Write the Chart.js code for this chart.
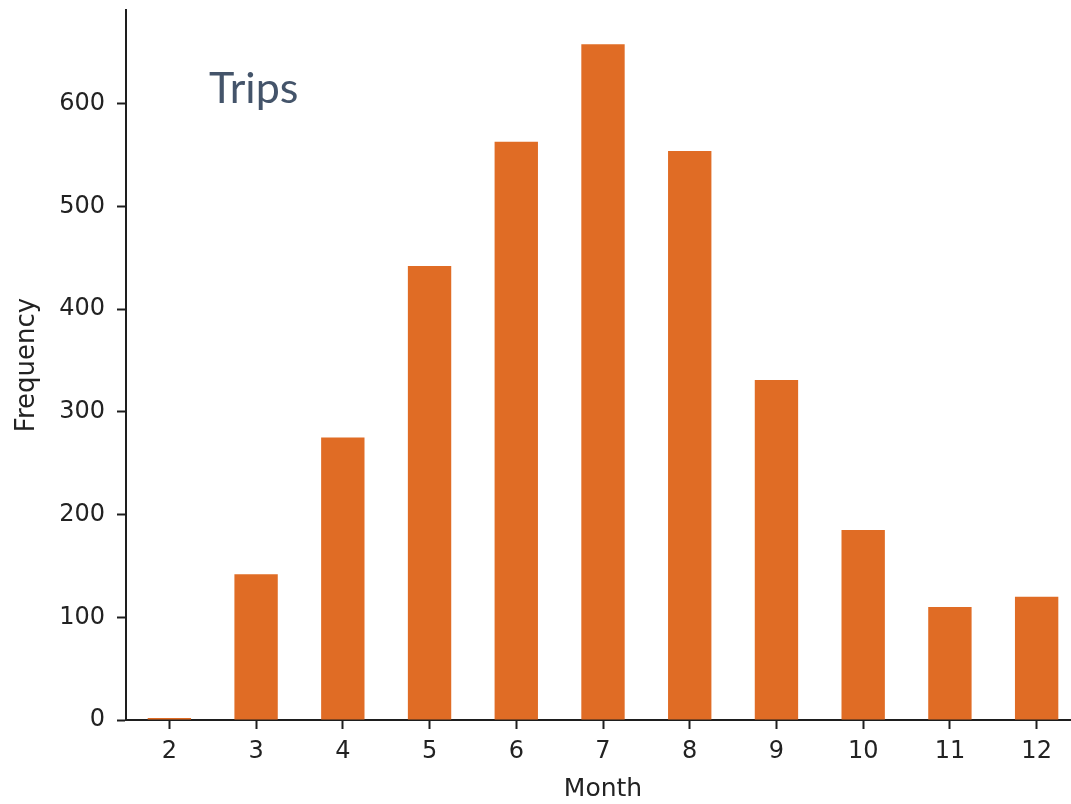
<!DOCTYPE html>
<html>
<head>
<meta charset="utf-8">
<script src="https://cdn.jsdelivr.net/npm/chart.js@4"></script>
<style>
  html, body { margin: 0; padding: 0; background: #fff; overflow: hidden; }
  #wrap { position: relative; width: 1080px; height: 804px; }
  #trips { position: absolute; left: 209px; top: 61px; font-family: Lato, "Open Sans", sans-serif;
           font-size: 43px; line-height: 1.2; color: #44546A; white-space: nowrap; }
</style>
</head>
<body>
<div id="wrap">
  <canvas id="c"></canvas>
  <div id="trips">Trips</div>
</div>
<script>
const months = ['2', '3', '4', '5', '6', '7', '8', '9', '10', '11', '12'];
const frequency = [2, 142, 275, 442, 563, 658, 554, 331, 185, 110, 120];
const yTicks = [0, 100, 200, 300, 400, 500, 600];
const yMax = 691.3;
const xTitle = 'Month';
const yTitle = 'Frequency';

const axisColor = '#1e1e1e';
const textColor = '#222222';

new Chart(document.getElementById('c'), {
  type: 'bar',
  data: {
    labels: months,
    datasets: [{
      data: frequency,
      backgroundColor: '#E06C25',
      borderWidth: 0,
      barPercentage: 0.5,
      categoryPercentage: 1.0
    }]
  },
  options: {
    responsive: true,
    maintainAspectRatio: false,
    animation: false,
    layout: { padding: { top: 10, left: 0, right: 0, bottom: 0 } },
    plugins: { legend: { display: false }, tooltip: { enabled: false } },
    scales: {
      x: {
        offset: true,
        grid: { offset: false, drawOnChartArea: false, drawTicks: true, tickLength: 9, tickWidth: 2, tickColor: axisColor },
        border: { display: true, color: axisColor, width: 2 },
        ticks: { color: textColor, font: { family: 'DejaVu Sans', size: 24 }, padding: 8, maxRotation: 0, autoSkip: false },
        title: { display: true, text: xTitle, color: textColor, font: { family: 'DejaVu Sans', size: 25 }, padding: { top: 0, bottom: 0 } },
        afterFit: s => { s.height = 84; s.paddingLeft = 0; s.paddingRight = 0; }
      },
      y: {
        min: 0,
        max: yMax,
        grid: { drawOnChartArea: false, drawTicks: true, tickLength: 9, tickWidth: 2, tickColor: axisColor },
        border: { display: true, color: axisColor, width: 2 },
        ticks: { color: textColor, font: { family: 'DejaVu Sans', size: 24 }, padding: 12 },
        afterBuildTicks: s => { s.ticks = yTicks.map(v => ({ value: v })); },
        title: { display: true, text: yTitle, color: textColor, font: { family: 'DejaVu Sans', size: 26 }, padding: { top: 12, bottom: 0 } },
        afterFit: s => { s.width = 126; s.paddingTop = 0; s.paddingBottom = 0; }
      }
    }
  }
});
</script>
</body>
</html>
